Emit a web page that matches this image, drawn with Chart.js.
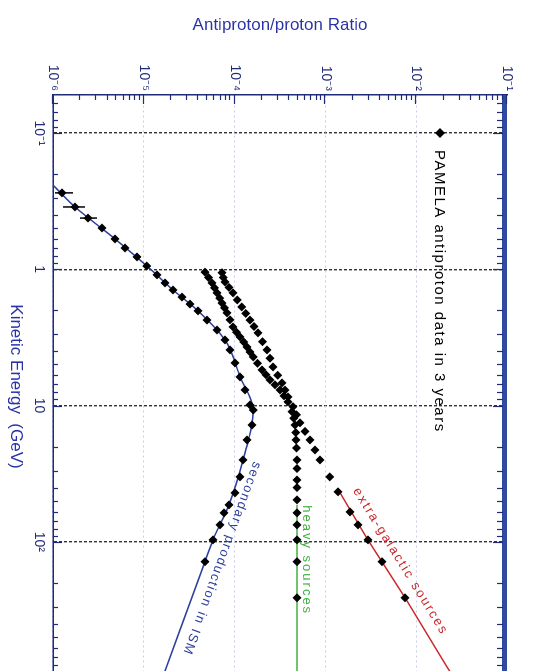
<!DOCTYPE html>
<html>
<head>
<meta charset="utf-8">
<title>Antiproton/proton ratio</title>
<script src="https://cdn.jsdelivr.net/npm/chart.js@4.4.1/dist/chart.umd.min.js"></script>
<style>
    html, body { margin: 0; padding: 0; background: #fff; overflow: hidden; }
    /* chart is drawn landscape and turned a quarter clockwise, like the original figure */
    #wrap {
        position: absolute; left: 0; top: 0;
        width: 700px; height: 535px;
        transform-origin: 0 0;
        transform: translate(535px, 0) rotate(90deg);
    }
</style>
</head>
<body>
<div id="wrap"><canvas id="ratioChart" width="700" height="535"></canvas></div>
<script>
// kinetic energy in GeV, antiproton/proton ratio

// projected data, secondary branch
const secEnergy = [0.275, 0.349, 0.421, 0.498, 0.599, 0.698, 0.812, 0.946, 1.10, 1.26, 1.42, 1.60, 1.80, 2.02,
    2.36, 2.79, 3.30, 3.91, 4.87, 6.17, 7.69, 9.90, 10.8, 13.9, 17.9, 25.1, 33.4, 43.8, 53.6, 61.4, 75.2, 96.9, 140];
const secRatio = [1.26e-6, 1.75e-6, 2.43e-6, 3.47e-6, 4.82e-6, 6.21e-6, 8.41e-6, 1.08e-5, 1.40e-5, 1.71e-5, 2.10e-5,
    2.64e-5, 3.23e-5, 3.96e-5, 4.97e-5, 6.40e-5, 7.83e-5, 8.89e-5, 1.01e-4, 1.15e-4, 1.30e-4, 1.48e-4, 1.60e-4,
    1.55e-4, 1.37e-4, 1.24e-4, 1.15e-4, 1.01e-4, 8.67e-5, 7.64e-5, 6.90e-5, 5.78e-5, 4.72e-5];
// error bars on the first low energy points
const secErrLow = [1.05e-6, 1.29e-6, 1.98e-6];
const secErrHigh = [1.66e-6, 2.25e-6, 3.05e-6];

// projected data, with heavy sources
const heavyEnergy = [1.05, 1.15, 1.26, 1.37, 1.49, 1.63, 1.77, 1.92, 2.09, 2.35, 2.65, 2.90, 3.14, 3.42, 3.72,
    4.05, 4.40, 4.90, 5.48, 5.95, 6.49, 7.05, 7.69, 8.50, 9.41, 11.1, 12.4, 13.9, 15.8, 17.9, 20.5, 25.1, 29.0,
    35.2, 40.0, 49.3, 61.4, 75.2, 96.9, 140, 258];
const heavyRatio = [4.72e-5, 5.15e-5, 5.64e-5, 6.00e-5, 6.40e-5, 6.85e-5, 7.26e-5, 7.75e-5, 8.24e-5, 8.90e-5,
    9.59e-5, 1.05e-4, 1.15e-4, 1.26e-4, 1.37e-4, 1.48e-4, 1.60e-4, 1.79e-4, 2.00e-4, 2.22e-4, 2.45e-4, 2.78e-4,
    3.16e-4, 3.50e-4, 3.87e-4, 4.28e-4, 4.48e-4, 4.62e-4, 4.70e-4, 4.74e-4, 4.80e-4, 4.86e-4, 4.86e-4, 4.86e-4,
    4.86e-4, 4.86e-4, 4.86e-4, 4.86e-4, 4.86e-4, 4.86e-4, 4.86e-4];

// projected data, with extra-galactic sources
const egEnergy = [1.06, 1.15, 1.24, 1.36, 1.49, 1.68, 1.89, 2.11, 2.36, 2.63, 2.93, 3.40, 3.91, 4.50, 5.21, 6.00,
    6.83, 7.70, 8.65, 10.2, 11.7, 13.4, 15.5, 17.9, 21.2, 25.1, 33.4, 43.0, 60.4, 75.2, 96.9, 140, 258];
const egRatio = [7.26e-5, 7.50e-5, 7.83e-5, 8.70e-5, 9.59e-5, 1.07e-4, 1.20e-4, 1.33e-4, 1.48e-4, 1.64e-4, 1.81e-4,
    2.03e-4, 2.27e-4, 2.45e-4, 2.65e-4, 2.98e-4, 3.33e-4, 3.60e-4, 3.87e-4, 4.39e-4, 4.80e-4, 5.25e-4, 5.95e-4,
    6.76e-4, 7.70e-4, 8.73e-4, 1.12e-3, 1.38e-3, 1.87e-3, 2.29e-3, 2.94e-3, 4.20e-3, 7.54e-3];

// model curves
const secModelEnergy = [0.241, 0.349, 0.599, 0.946, 1.42, 2.02, 3.30, 6.17, 10.8, 25.1, 53.6, 96.9, 140, 1000];
const secModelRatio = [1.0e-6, 1.75e-6, 4.82e-6, 1.08e-5, 2.10e-5, 3.96e-5, 7.83e-5, 1.15e-4, 1.60e-4, 1.24e-4,
    8.67e-5, 5.78e-5, 4.72e-5, 1.60e-5];
const heavyModelEnergy = [53.6, 1000];
const heavyModelRatio = [4.86e-4, 4.86e-4];
const egModelEnergy = [43.8, 96.9, 258, 827, 1000];
const egModelRatio = [1.45e-3, 2.94e-3, 7.54e-3, 2.18e-2, 2.61e-2];

// axes
const energyTicks = [0.1, 1, 10, 100, 1000];
const energyTickLabels = ['10⁻¹', '1', '10', '10²', ''];
const ratioTicks = [1e-6, 1e-5, 1e-4, 1e-3, 1e-2, 1e-1];
const ratioTickLabels = ['10⁻⁶', '10⁻⁵', '10⁻⁴', '10⁻³', '10⁻²', '10⁻¹'];

const legendText = 'PAMELA antiproton data in 3 years';

const FONT = '"Liberation Sans", Arial, sans-serif';
const NAVY = '#1f2a78';
const BLUE = '#2d3f9e';
const RED = '#c8282a';
const GREEN = '#40b040';

function toPoints(xs, ys) {
    return xs.map((x, i) => ({ x: x, y: ys[i] }));
}

// texts written along the model curves (dataset index, start/end energy, lift off the line)
const curveLabels = [
    { ds: 3, text: 'secondary production in ISM', from: 24, to: 700, lift: 8, color: BLUE, spacing: '1.5px' },
    { ds: 4, text: 'heavy sources', from: 54, to: 380, lift: 3, color: GREEN, spacing: '2px' },
    { ds: 5, text: 'extra-galactic sources', from: 47, to: 700, lift: 9, color: RED, spacing: '2px' }
];

function lineYAt(meta, px) {
    const pts = meta.data;
    for (let i = 0; i < pts.length - 1; i++) {
        if (px >= pts[i].x && px <= pts[i + 1].x) {
            const t = (px - pts[i].x) / (pts[i + 1].x - pts[i].x);
            return pts[i].y + t * (pts[i + 1].y - pts[i].y);
        }
    }
    return pts[pts.length - 1].y;
}

const decorPlugin = {
    id: 'decor',
    afterDatasetsDraw(chart) {
        const { ctx, chartArea: a, scales: { x, y } } = chart;
        ctx.save();

        // error bars
        ctx.strokeStyle = '#000';
        ctx.lineWidth = 1.5;
        secErrLow.forEach((lo, i) => {
            const px = x.getPixelForValue(secEnergy[i]);
            ctx.beginPath();
            ctx.moveTo(px, y.getPixelForValue(lo));
            ctx.lineTo(px, y.getPixelForValue(secErrHigh[i]));
            ctx.stroke();
        });

        // thick blue frame line at the top
        ctx.strokeStyle = '#2f4a9e';
        ctx.lineWidth = 5;
        ctx.beginPath();
        ctx.moveTo(a.left, a.top + 2.5);
        ctx.lineTo(a.right, a.top + 2.5);
        ctx.stroke();

        // inside tick marks
        ctx.strokeStyle = NAVY;
        ctx.lineWidth = 1.2;
        for (let d = -2; d <= 3; d++) {
            for (let m = 1; m <= 9; m++) {
                const v = m * Math.pow(10, d);
                if (v < x.min || v > x.max) continue;
                const px = Math.round(x.getPixelForValue(v)) + 0.5;
                const len = m === 1 ? 9 : 5;
                ctx.beginPath();
                ctx.moveTo(px, a.bottom);
                ctx.lineTo(px, a.bottom - len);
                ctx.moveTo(px, a.top + 4);
                ctx.lineTo(px, a.top + 5 + len);
                ctx.stroke();
            }
        }
        for (let d = -7; d <= 0; d++) {
            for (let m = 1; m <= 9; m++) {
                const v = m * Math.pow(10, d);
                if (v < y.min || v > y.max) continue;
                const py = Math.round(y.getPixelForValue(v)) + 0.5;
                const len = m === 1 ? 9 : 5;
                ctx.beginPath();
                ctx.moveTo(a.left, py);
                ctx.lineTo(a.left + len, py);
                ctx.stroke();
            }
        }

        // texts along the curves
        curveLabels.forEach(lab => {
            const meta = chart.getDatasetMeta(lab.ds);
            const x1 = x.getPixelForValue(lab.from);
            const x2 = x.getPixelForValue(lab.to);
            const y1 = lineYAt(meta, x1);
            const y2 = lineYAt(meta, x2);
            ctx.save();
            ctx.translate(x1, y1);
            ctx.rotate(Math.atan2(y2 - y1, x2 - x1));
            ctx.font = '13px ' + FONT;
            ctx.letterSpacing = lab.spacing;
            ctx.fillStyle = lab.color;
            ctx.textBaseline = 'bottom';
            ctx.textAlign = 'left';
            ctx.fillText(lab.text, 0, -lab.lift);
            ctx.restore();
        });

        // legend
        const lx = x.getPixelForValue(0.1);
        const ly = y.getPixelForValue(1.83e-2);
        ctx.fillStyle = '#000';
        ctx.beginPath();
        ctx.moveTo(lx - 5, ly);
        ctx.lineTo(lx, ly - 5);
        ctx.lineTo(lx + 5, ly);
        ctx.lineTo(lx, ly + 5);
        ctx.closePath();
        ctx.fill();
        ctx.font = '15px ' + FONT;
        ctx.letterSpacing = '1.5px';
        ctx.textBaseline = 'middle';
        ctx.fillText(legendText, lx + 17, ly + 1);

        ctx.restore();
    }
};

const markerStyle = {
    showLine: false,
    pointStyle: 'rectRot',
    pointRadius: 4.5,
    pointBackgroundColor: '#000',
    pointBorderColor: '#000',
    pointBorderWidth: 0
};

new Chart(document.getElementById('ratioChart'), {
    type: 'line',
    data: {
        datasets: [
            Object.assign({ label: 'secondary data', data: toPoints(secEnergy, secRatio) }, markerStyle),
            Object.assign({ label: 'heavy data', data: toPoints(heavyEnergy, heavyRatio) }, markerStyle),
            Object.assign({ label: 'extra-galactic data', data: toPoints(egEnergy, egRatio) }, markerStyle),
            {
                label: 'secondary production',
                data: toPoints(secModelEnergy, secModelRatio),
                borderColor: BLUE, borderWidth: 1.5, pointRadius: 0,
                cubicInterpolationMode: 'monotone'
            },
            {
                label: 'heavy sources',
                data: toPoints(heavyModelEnergy, heavyModelRatio),
                borderColor: GREEN, borderWidth: 1.5, pointRadius: 0
            },
            {
                label: 'extra-galactic sources',
                data: toPoints(egModelEnergy, egModelRatio),
                borderColor: RED, borderWidth: 1.5, pointRadius: 0
            }
        ]
    },
    options: {
        responsive: false,
        animation: false,
        devicePixelRatio: 1,
        layout: { padding: { top: 28, right: 22, left: 0, bottom: 0 } },
        plugins: { legend: { display: false }, tooltip: { enabled: false } },
        scales: {
            x: {
                type: 'logarithmic',
                min: 0.0526,
                max: 1000,
                afterBuildTicks: scale => { scale.ticks = energyTicks.map(v => ({ value: v })); },
                afterFit: scale => { scale.height = 53; },
                ticks: {
                    autoSkip: false,
                    maxRotation: 0,
                    padding: 6,
                    color: NAVY,
                    font: { family: FONT, size: 14 },
                    callback: value => energyTickLabels[energyTicks.indexOf(value)]
                },
                grid: { color: '#333', lineWidth: 1.4, drawTicks: false },
                border: { display: true, color: NAVY, width: 1.5, dash: [3, 2] },
                title: {
                    display: true,
                    text: 'Kinetic Energy  (GeV)',
                    color: '#2a32a8',
                    font: { family: FONT, size: 17 },
                    padding: { top: 0, bottom: 5 }
                }
            },
            y: {
                type: 'logarithmic',
                min: 1e-6,
                max: 1e-1,
                afterBuildTicks: scale => { scale.ticks = ratioTicks.map(v => ({ value: v })); },
                afterFit: scale => { scale.width = 95; },
                ticks: {
                    autoSkip: false,
                    padding: 4,
                    color: NAVY,
                    font: { family: FONT, size: 14 },
                    callback: value => ratioTickLabels[ratioTicks.indexOf(value)]
                },
                grid: { color: '#c9cce8', lineWidth: 1, drawTicks: false },
                border: { display: true, color: NAVY, width: 1.5, dash: [2, 3] },
                title: {
                    display: true,
                    text: 'Antiproton/proton Ratio',
                    color: '#2a32a8',
                    font: { family: FONT, size: 17 },
                    padding: { top: 15, bottom: 0 }
                }
            }
        }
    },
    plugins: [decorPlugin]
});
</script>
</body>
</html>
